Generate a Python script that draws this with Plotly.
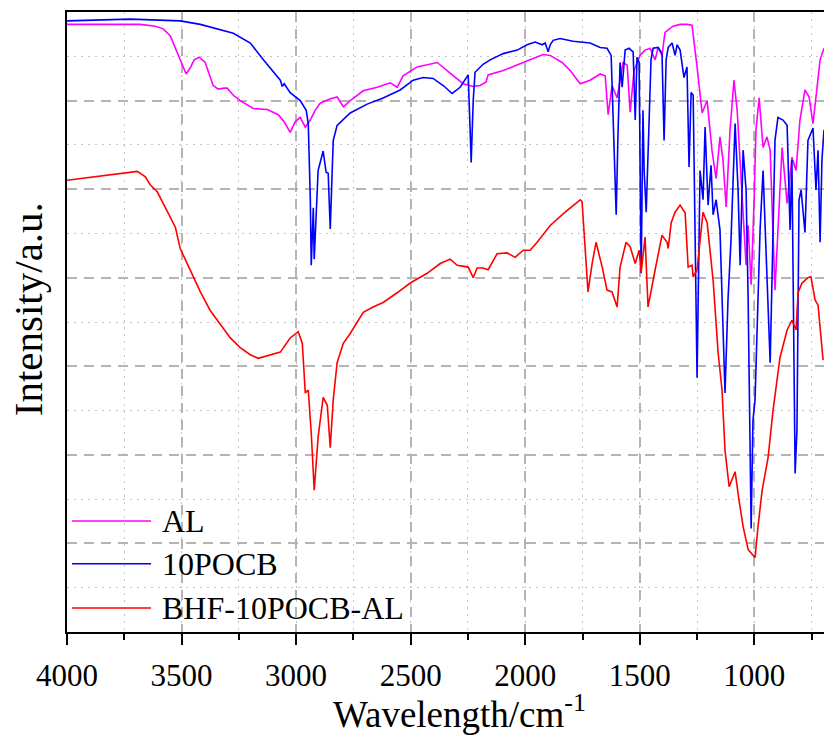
import plotly.graph_objects as go

# FTIR spectra: wavenumber (cm-1) and relative intensity (a.u.)
al_wn = [4000, 3855, 3680, 3615, 3580, 3549, 3523, 3497, 3480, 3462, 3445, 3423, 3397, 3362,
         3340, 3314, 3301, 3274, 3244, 3187, 3126, 3078, 3052, 3026, 3004, 2982, 2960, 2938,
         2917, 2895, 2851, 2821, 2794, 2764, 2707, 2646, 2589, 2559, 2533, 2472, 2384, 2328,
         2271, 2227, 2197, 2171, 2162, 2096, 2035, 1979, 1922, 1891, 1878, 1839, 1804, 1760,
         1717, 1673, 1651, 1638, 1621, 1599, 1582, 1573, 1555, 1542, 1525, 1499, 1477, 1455,
         1433, 1420, 1403, 1390, 1355, 1324, 1294, 1272, 1250, 1237, 1228, 1206, 1185, 1167,
         1150, 1137, 1123, 1106, 1089, 1075, 1058, 1045, 1036, 1027, 1014, 1001, 993, 979,
         962, 945, 931, 910, 892, 879, 857, 836, 818, 801, 779, 761, 744, 726, 713, 696]
al_int = [6.86, 6.86, 6.86, 6.84, 6.81, 6.73, 6.57, 6.42, 6.30, 6.37, 6.46, 6.49, 6.43, 6.17,
          6.13, 6.14, 6.14, 6.06, 6.00, 5.91, 5.90, 5.84, 5.76, 5.64, 5.76, 5.81, 5.70, 5.78,
          5.89, 5.97, 6.02, 6.04, 5.93, 6.00, 6.11, 6.15, 6.20, 6.15, 6.28, 6.38, 6.43, 6.31,
          6.19, 6.16, 6.17, 6.21, 6.29, 6.34, 6.40, 6.46, 6.52, 6.51, 6.49, 6.43, 6.34, 6.19,
          6.23, 6.30, 6.28, 5.84, 6.17, 6.03, 6.29, 6.43, 6.40, 5.87, 6.34, 6.51, 6.57, 6.59,
          6.46, 6.60, 6.51, 6.77, 6.84, 6.86, 6.86, 6.85, 6.38, 6.06, 5.86, 6.00, 5.44, 5.12,
          5.59, 5.33, 4.80, 5.67, 6.23, 5.89, 5.10, 4.42, 4.14, 4.59, 3.92, 4.88, 5.67, 6.03,
          5.47, 5.59, 5.44, 3.86, 4.88, 5.47, 4.84, 5.36, 5.21, 5.78, 6.12, 6.04, 5.74, 6.17,
          6.46, 6.59]

pocb_wn = [4000, 3724, 3506, 3418, 3274, 3200, 3143, 3091, 3069, 3060, 3052, 3026, 2982, 2956,
           2947, 2938, 2934, 2925, 2921, 2904, 2882, 2869, 2860, 2851, 2838, 2821, 2764, 2690,
           2620, 2546, 2489, 2445, 2402, 2358, 2319, 2284, 2249, 2240, 2236, 2227, 2219, 2184,
           2153, 2096, 2035, 1992, 1957, 1926, 1913, 1900, 1891, 1878, 1848, 1791, 1717, 1673,
           1643, 1625, 1616, 1603, 1595, 1586, 1577, 1564, 1547, 1529, 1520, 1512, 1503, 1494,
           1486, 1481, 1472, 1464, 1451, 1442, 1420, 1403, 1394, 1385, 1376, 1359, 1346, 1337,
           1324, 1307, 1294, 1285, 1276, 1267, 1250, 1237, 1224, 1215, 1202, 1189, 1180, 1167,
           1150, 1128, 1115, 1102, 1084, 1071, 1062, 1049, 1036, 1027, 1014, 1006, 997, 988,
           975, 962, 949, 940, 931, 923, 910, 897, 875, 857, 844, 836, 822, 814, 805, 796,
           779, 766, 744, 731, 722, 713, 705, 696]
pocb_int = [6.90, 6.92, 6.90, 6.86, 6.76, 6.65, 6.46, 6.29, 6.23, 6.16, 6.19, 6.09, 6.00, 5.89,
            5.74, 4.88, 4.14, 4.79, 4.21, 5.21, 5.43, 5.19, 5.18, 4.55, 5.55, 5.72, 5.86, 5.96,
            6.03, 6.12, 6.23, 6.26, 6.25, 6.17, 6.08, 6.15, 6.29, 5.63, 5.30, 6.00, 6.32, 6.41,
            6.46, 6.53, 6.57, 6.63, 6.66, 6.63, 6.65, 6.55, 6.63, 6.68, 6.70, 6.67, 6.65, 6.60,
            6.59, 6.51, 5.81, 4.71, 5.63, 6.43, 6.15, 6.57, 6.59, 6.55, 5.78, 6.49, 6.43, 4.05,
            5.89, 5.21, 4.74, 5.44, 6.46, 6.59, 6.60, 6.53, 5.55, 6.46, 6.60, 6.65, 6.51, 6.63,
            6.57, 6.26, 6.38, 5.25, 6.09, 6.06, 2.87, 5.21, 4.88, 5.70, 4.82, 5.27, 4.71, 4.88,
            4.54, 2.70, 3.75, 4.42, 5.74, 4.99, 4.14, 5.44, 4.99, 3.75, 1.17, 2.39, 2.62, 3.41,
            4.54, 5.21, 4.31, 3.75, 3.04, 3.97, 5.55, 5.81, 5.78, 5.72, 4.54, 5.33, 1.79, 2.28, 4.88, 4.99,
            4.51, 5.55, 5.69, 4.99, 5.44, 4.40, 5.33, 5.67]

bhf_wn = [4000, 3855, 3711, 3693, 3658, 3637, 3606, 3571, 3527, 3506, 3462, 3418, 3375, 3331,
          3287, 3244, 3200, 3165, 3126, 3069, 3026, 2991, 2973, 2960, 2947, 2934, 2921, 2904,
          2882, 2864, 2851, 2838, 2821, 2794, 2764, 2707, 2664, 2620, 2559, 2502, 2428, 2371,
          2328, 2297, 2249, 2227, 2210, 2184, 2162, 2123, 2079, 2044, 2009, 1979, 1948, 1891,
          1826, 1760, 1752, 1739, 1726, 1708, 1691, 1664, 1643, 1621, 1599, 1586, 1560, 1542,
          1520, 1503, 1494, 1477, 1464, 1433, 1403, 1381, 1376, 1363, 1346, 1324, 1302, 1289,
          1272, 1267, 1250, 1224, 1206, 1180, 1158, 1141, 1128, 1110, 1084, 1067, 1049, 1027,
          997, 984, 966, 940, 918, 888, 857, 836, 818, 809, 792, 766, 753, 735, 722, 700]
bhf_int = [5.10, 5.15, 5.20, 5.20, 5.14, 5.05, 4.97, 4.80, 4.57, 4.33, 4.09, 3.84, 3.63, 3.47,
           3.32, 3.21, 3.13, 3.09, 3.12, 3.16, 3.32, 3.39, 3.26, 2.70, 2.73, 2.25, 1.60, 2.20,
           2.65, 2.56, 2.08, 2.62, 3.04, 3.26, 3.37, 3.61, 3.67, 3.72, 3.83, 3.94, 4.05, 4.16,
           4.21, 4.14, 4.12, 4.00, 4.11, 4.11, 4.09, 4.27, 4.28, 4.23, 4.31, 4.31, 4.40, 4.59,
           4.74, 4.88, 4.86, 4.35, 3.84, 4.16, 4.40, 4.12, 3.86, 3.84, 3.67, 4.12, 4.40, 4.35,
           4.16, 4.31, 4.06, 4.46, 3.67, 4.09, 4.48, 4.40, 4.33, 4.62, 4.74, 4.82, 4.73, 4.12,
           4.14, 4.01, 4.09, 4.74, 4.62, 3.97, 3.15, 2.73, 2.05, 1.64, 1.81, 1.49, 1.19, 0.93,
           0.84, 1.19, 1.60, 1.97, 2.51, 3.10, 3.41, 3.52, 3.41, 3.83, 3.94, 4.00, 4.01, 3.75,
           3.69, 3.07]

series_names = ["AL", "10POCB", "BHF-10POCB-AL"]
series_colors = ["#FF00FF", "#0000FF", "#FF0000"]
x_ticks = [4000, 3500, 3000, 2500, 2000, 1500, 1000]

FONT = "Times New Roman"
GRID_MAJOR = "#b4b4b4"
GRID_MINOR = "#c4c4c4"

fig = go.Figure()
for name, color, wn, inten in zip(series_names, series_colors,
                                  [al_wn, pocb_wn, bhf_wn],
                                  [al_int, pocb_int, bhf_int]):
    fig.add_trace(go.Scatter(x=wn, y=inten, mode="lines", name=name,
                             line=dict(color=color, width=1.6),
                             showlegend=False))

fig.update_layout(
    width=824, height=738,
    margin=dict(l=67, r=0, t=12, b=106),
    paper_bgcolor="white", plot_bgcolor="white",
    font=dict(family=FONT, color="black", size=31),
    xaxis=dict(
        range=[4000, 696], tickmode="array", tickvals=x_ticks,
        ticks="outside", ticklen=11, tickwidth=1.5, tickcolor="black",
        tickfont=dict(size=31, family=FONT, color="black"),
        ticklabelstandoff=4,
        showline=True, linecolor="black", linewidth=2, mirror=True,
        showgrid=True, gridcolor=GRID_MAJOR, gridwidth=1.5, griddash="10px,7px",
        zeroline=False,
        minor=dict(dtick=250, tick0=0, ticks="outside", ticklen=6, tickwidth=1.5,
                   tickcolor="black", showgrid=True, gridcolor=GRID_MINOR,
                   gridwidth=1.2, griddash="2px,5px"),
    ),
    yaxis=dict(
        range=[0, 7], dtick=1, tick0=0, showticklabels=False, ticks="",
        showline=True, linecolor="black", linewidth=2, mirror=False,
        showgrid=True, gridcolor=GRID_MAJOR, gridwidth=1.5, griddash="10px,7px",
        zeroline=False,
        minor=dict(dtick=0.5, tick0=0, showgrid=True, gridcolor=GRID_MINOR,
                   gridwidth=1.2, griddash="2px,5px"),
    ),
)

# axis titles
fig.add_annotation(text="Wavelength/cm<sup>-1</sup>", xref="paper", yref="paper",
                   x=0.519, y=-0.128, xanchor="center", yanchor="middle",
                   showarrow=False, font=dict(size=37, family=FONT))
fig.add_annotation(text="Intensity/a.u.", xref="paper", yref="paper",
                   x=-0.052, y=0.52, xanchor="center", yanchor="middle", textangle=-90,
                   showarrow=False, font=dict(size=41, family=FONT))

# legend: short line sample plus label for each series
legend_y = [0.179, 0.110, 0.0387]
for name, color, ly in zip(series_names, series_colors, legend_y):
    fig.add_shape(type="line", xref="paper", yref="paper", x0=0.0066, x1=0.111,
                  y0=ly, y1=ly, line=dict(color=color, width=1.6))
    fig.add_annotation(text=name, xref="paper", yref="paper", x=0.123, y=ly,
                       xanchor="left", yanchor="middle", showarrow=False,
                       font=dict(size=32, family=FONT))

fig.write_html("out.html")
